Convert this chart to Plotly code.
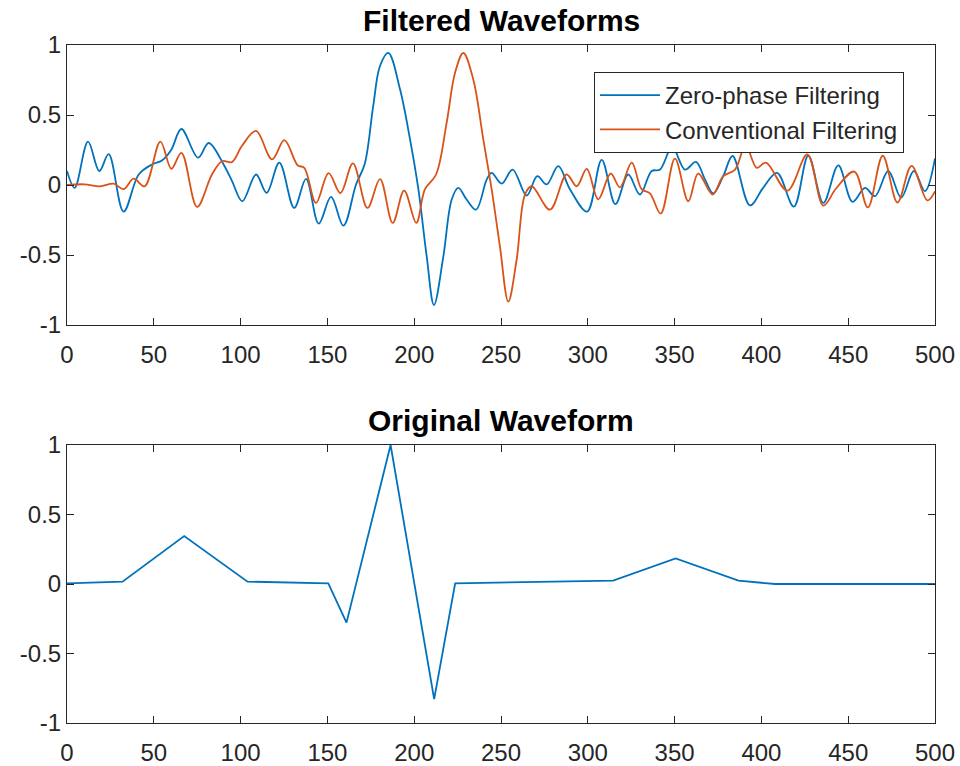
import plotly.graph_objects as go

# ---------------- data ----------------
zp_x = [0, 4.4, 12.1, 18.6, 24, 32.6, 41.3, 49, 54.7, 60, 65.9, 75.5, 81.6, 90.2, 95, 101,
        108.9, 115, 122.3, 130.9, 137.7, 145, 152.1, 159.2, 166.5, 171.5, 176.4, 180.3, 185.1,
        191.8, 197.6, 202.4, 207.2, 211.4, 216.8, 221.6, 225.4, 230, 235.6, 241.8, 244.6, 250.4,
        256.7, 264.8, 270.9, 276.3, 283, 289.7, 299.6, 308, 315.9, 323.3, 330, 336.8, 341.6,
        348.6, 356, 362.3, 367.5, 372.3, 378, 383.4, 393.4, 401, 409, 418.7, 427, 435.7, 444.3,
        452.5, 459.7, 465.4, 473.1, 480.5, 487.8, 494.2, 500]
zp_y = [0.10, -0.02, 0.31, 0.10, 0.22, -0.19, 0.075, 0.147, 0.175, 0.25, 0.40, 0.195, 0.30, 0.147,
        0.03, -0.116, 0.075, -0.056, 0.16, -0.164, 0.044, -0.276, -0.085, -0.29, 0.004, 0.15, 0.565,
        0.85, 0.943, 0.685, 0.326, -0.03, -0.51, -0.857, -0.51, -0.104, -0.02, -0.1, -0.176, 0.04,
        0.087, 0.01, 0.11, -0.075, 0.063, 0.004, 0.135, -0.03, -0.19, 0.18, -0.137, 0.075, -0.068,
        0.1, 0.11, 0.27, 0.11, 0.165, 0.04, -0.06, 0.063, 0.207, -0.146, -0.02, 0.087, -0.154, 0.209,
        -0.128, 0.14, -0.12, -0.02, -0.08, 0.1, -0.09, 0.1, -0.044, 0.19]

cv_x = [0, 10, 19, 26.9, 32.6, 38.4, 44.7, 53.8, 60.1, 65.9, 74.9, 83.5, 89.3, 95, 100.8, 108.9,
        118.1, 125.2, 132.9, 136.7, 143.4, 150.7, 157.5, 164.7, 173.1, 180.3, 187.6, 194.2, 201.2,
        206.2, 212.6, 218.7, 223.5, 228.3, 234, 239.8, 244.6, 249.4, 254.2, 259, 263.8, 267.7,
        278.2, 287.8, 293.6, 299.4, 306, 313.2, 318.5, 325.3, 331, 335.8, 342, 350.2, 357.9, 363.6,
        371.9, 378, 384.8, 390.9, 397.3, 402.6, 415, 426.5, 435.7, 443, 453.5, 461.3, 469.9, 478.4,
        486.5, 495.6, 500]
cv_y = [0.0, 0.005, -0.01, 0.01, -0.03, 0.045, -0.01, 0.31, 0.116, 0.23, -0.156, 0.075, 0.17, 0.163,
        0.28, 0.386, 0.183, 0.32, 0.14, 0.123, -0.128, 0.085, -0.058, 0.154, -0.164, 0.042, -0.27,
        -0.04, -0.27, -0.03, 0.075, 0.446, 0.80, 0.943, 0.756, 0.326, -0.03, -0.44, -0.833, -0.534,
        -0.068, -0.009, -0.176, 0.075, -0.009, 0.115, -0.102, 0.082, -0.017, 0.16, -0.03, -0.06,
        -0.204, 0.188, -0.116, 0.082, -0.068, 0.063, 0.11, 0.283, 0.123, 0.16, -0.04, 0.218, -0.147,
        -0.025, 0.096, -0.16, 0.209, -0.125, 0.137, -0.11, -0.045]

orig_x = [0, 32, 67.5, 104, 150.5, 161, 186.4, 211.5, 223.6, 314.6, 350.6, 386.8, 408, 500]
orig_y = [0.005, 0.017, 0.345, 0.017, 0.005, -0.278, 1.0, -0.828, 0.005, 0.024, 0.184, 0.024, 0.0, 0.0]

x_tickvals = [0, 50, 100, 150, 200, 250, 300, 350, 400, 450, 500]
x_ticktext = ["0", "50", "100", "150", "200", "250", "300", "350", "400", "450", "500"]
y_tickvals = [-1, -0.5, 0, 0.5, 1]
y_ticktext = ["-1", "-0.5", "0", "0.5", "1"]

titles = ["Filtered Waveforms", "Original Waveform"]
names = ["Zero-phase Filtering", "Conventional Filtering"]

BLUE = "#0072BD"
ORANGE = "#D95319"
AX = "#262626"
FONT = "Liberation Sans, Arial, sans-serif"

fig = go.Figure()
fig.add_trace(go.Scatter(x=zp_x, y=zp_y, mode="lines", name=names[0],
                         line=dict(color=BLUE, width=1.8, shape="spline", smoothing=1.0),
                         xaxis="x", yaxis="y"))
fig.add_trace(go.Scatter(x=cv_x, y=cv_y, mode="lines", name=names[1],
                         line=dict(color=ORANGE, width=1.8, shape="spline", smoothing=1.0),
                         xaxis="x", yaxis="y"))
fig.add_trace(go.Scatter(x=orig_x, y=orig_y, mode="lines", showlegend=False,
                         line=dict(color=BLUE, width=1.8),
                         xaxis="x2", yaxis="y2"))

W, H = 960, 766
ML, MR, MT, MB = 67, W - 935, 45, H - 723
PH = H - MT - MB
dom1 = [1 - (325 - MT) / PH, 1]
dom2 = [0, (723 - 445) / PH]

common_x = dict(range=[0, 500], tickvals=x_tickvals, ticktext=x_ticktext, ticks="inside",
                ticklen=7, tickcolor=AX, tickwidth=1, showline=True, linecolor=AX, linewidth=1,
                mirror="ticks", showgrid=False, zeroline=False, automargin=False,
                ticklabelstandoff=8,
                tickfont=dict(family=FONT, size=24, color=AX), domain=[0, 1])
common_y = dict(range=[-1, 1], tickvals=y_tickvals, ticktext=y_ticktext, ticks="inside",
                ticklen=7, tickcolor=AX, tickwidth=1, showline=True, linecolor=AX, linewidth=1,
                mirror="ticks", showgrid=False, zeroline=False, automargin=False,
                tickfont=dict(family=FONT, size=24, color=AX))

fig.update_layout(
    width=W, height=H,
    margin=dict(l=ML, r=MR, t=MT, b=MB, autoexpand=False),
    paper_bgcolor="white", plot_bgcolor="white",
    xaxis=dict(common_x, anchor="y"),
    yaxis=dict(common_y, anchor="x", domain=dom1),
    xaxis2=dict(common_x, anchor="y2"),
    yaxis2=dict(common_y, anchor="x2", domain=dom2),
    legend=dict(x=(594 - ML) / (W - ML - MR), y=1 - (72 - MT) / PH, xanchor="left", yanchor="top",
                bgcolor="white", bordercolor=AX, borderwidth=1,
                font=dict(family=FONT, size=24, color=AX), itemwidth=60,
                tracegroupgap=0),
    showlegend=True,
    annotations=[
        dict(text="<b>%s</b>" % titles[0], x=0.5, y=(H - 21 - MB) / PH, xref="paper",
             yref="paper", xanchor="center", yanchor="middle", showarrow=False,
             font=dict(family=FONT, size=30, color="black")),
        dict(text="<b>%s</b>" % titles[1], x=0.5, y=(H - 420 - MB) / PH, xref="paper",
             yref="paper", xanchor="center", yanchor="middle", showarrow=False,
             font=dict(family=FONT, size=30, color="black")),
    ],
)

fig.write_html("out.html", config={"displayModeBar": False},
               post_script="document.body.style.margin='0';document.body.style.overflow='hidden';")
